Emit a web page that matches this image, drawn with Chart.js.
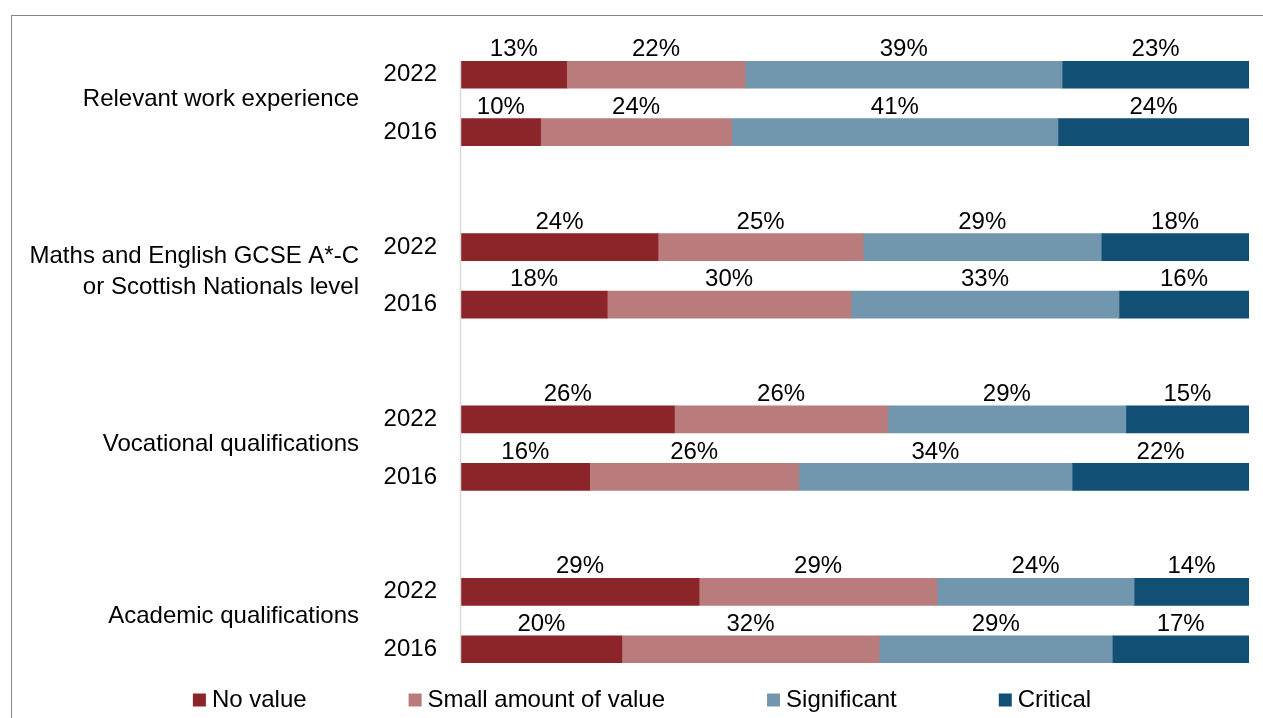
<!DOCTYPE html>
<html>
<head>
<meta charset="utf-8">
<script src="https://cdn.jsdelivr.net/npm/chart.js@4/dist/chart.umd.min.js"></script>
<style>
	html, body { margin: 0; padding: 0; background: #fff; overflow: hidden; }
	#frame { position: absolute; left: 11px; top: 15px; width: 1400px; height: 900px; border: 1px solid #868686; }
	#wrap { position: absolute; left: 0; top: 0; width: 1263px; height: 718px; }
</style>
</head>
<body>
<div id="frame"></div>
<div id="wrap"><canvas id="myChart"></canvas></div>
<script>
// groups, top to bottom; each has a 2022 row and a 2016 row
var groups = [
	["Relevant work experience"],
	["Maths and English GCSE A*-C", "or Scottish Nationals level"],
	["Vocational qualifications"],
	["Academic qualifications"],
];
var years = ["2022", "2016"];
var seriesNames = ["No value", "Small amount of value", "Significant", "Critical"];
var seriesColors = ["#8b2529", "#b97b7c", "#7196ae", "#114f74"];

// values per row: Relevant 2022, 2016, Maths 2022, 2016, Vocational 2022, 2016, Academic 2022, 2016
var noValue = [13, 10, 24, 18, 26, 16, 29, 20];
var smallValue = [22, 24, 25, 30, 26, 26, 29, 32];
var significant = [39, 41, 29, 33, 29, 34, 24, 29];
var critical = [23, 24, 18, 16, 15, 22, 14, 17];

var series = [noValue, smallValue, significant, critical];
var FONT = '"Liberation Sans", Arial, sans-serif';

// rows with a blank spacer between groups
var labels = [];
var rowIndex = [];
groups.forEach(function (g, gi) {
	if (gi > 0) {
		labels.push("");
		rowIndex.push(-1);
	}
	years.forEach(function (y, yi) {
		labels.push(y);
		rowIndex.push(gi * 2 + yi);
	});
});

// bars are drawn as share of the row total (100% stacked)
function rowTotal(r) {
	var t = 0;
	series.forEach(function (s) { t += s[r]; });
	return t;
}

var datasets = series.map(function (s, si) {
	return {
		label: seriesNames[si],
		data: rowIndex.map(function (r) { return r < 0 ? null : s[r] / rowTotal(r) * 100; }),
		raw: rowIndex.map(function (r) { return r < 0 ? null : s[r]; }),
		backgroundColor: seriesColors[si],
		borderWidth: 0,
		barThickness: 27,
	};
});

var extras = {
	id: "extras",
	afterDatasetsDraw: function (chart) {
		var ctx = chart.ctx;
		var yScale = chart.scales.y;
		ctx.save();

		// axis line, only across the bars
		var firstY = yScale.getPixelForValue(0) - 13.5;
		var lastY = yScale.getPixelForValue(labels.length - 1) + 13.5;
		ctx.strokeStyle = "#d9d9d9";
		ctx.lineWidth = 1.5;
		ctx.beginPath();
		ctx.moveTo(chart.chartArea.left - 0.5, firstY);
		ctx.lineTo(chart.chartArea.left - 0.5, lastY);
		ctx.stroke();

		// value labels above each segment
		ctx.font = "24px " + FONT;
		ctx.fillStyle = "#000";
		ctx.textAlign = "center";
		ctx.textBaseline = "middle";
		chart.data.datasets.forEach(function (ds, di) {
			var meta = chart.getDatasetMeta(di);
			meta.data.forEach(function (bar, i) {
				if (ds.raw[i] == null) return;
				ctx.fillText(ds.raw[i] + "%", (bar.x + bar.base) / 2, bar.y - 25);
			});
		});

		// group labels
		ctx.textAlign = "right";
		groups.forEach(function (g, gi) {
			var a = yScale.getPixelForValue(gi * 3);
			var b = yScale.getPixelForValue(gi * 3 + 1);
			var mid = (a + b) / 2 - 4;
			var lh = 31;
			var start = mid - (g.length - 1) * lh / 2;
			g.forEach(function (line, li) {
				ctx.fillText(line, 359, start + li * lh);
			});
		});

		// legend
		var gap = 102;
		var box = 13;
		var widths = seriesNames.map(function (n) { return box + 6 + ctx.measureText(n).width; });
		var total = widths.reduce(function (a, b) { return a + b; }, 0) + gap * (seriesNames.length - 1);
		var x = 642 - total / 2;
		var ly = 700;
		ctx.textAlign = "left";
		seriesNames.forEach(function (n, i) {
			ctx.fillStyle = seriesColors[i];
			ctx.fillRect(x, ly - 6.5, box, box);
			ctx.fillStyle = "#000";
			ctx.fillText(n, x + box + 6, ly);
			x += widths[i] + gap;
		});
		ctx.restore();
	},
};

var ctx = document.getElementById("myChart").getContext("2d");
var myChart = new Chart(ctx, {
	type: "bar",
	data: {
		labels: labels,
		datasets: datasets,
	},
	options: {
		indexAxis: "y",
		responsive: true,
		maintainAspectRatio: false,
		animation: false,
		layout: {
			padding: { left: 0, right: 14, top: 46, bottom: 40 },
		},
		scales: {
			x: {
				stacked: true,
				min: 0,
				max: 100,
				display: false,
			},
			y: {
				stacked: true,
				grid: { display: false, drawTicks: false },
				border: { display: false },
				ticks: {
					color: "#000",
					padding: 24,
					font: { size: 24, family: FONT },
				},
				afterFit: function (scale) {
					scale.width = 461;
				},
			},
		},
		plugins: {
			legend: { display: false },
			tooltip: { enabled: false },
		},
	},
	plugins: [extras],
});
</script>
</body>
</html>
